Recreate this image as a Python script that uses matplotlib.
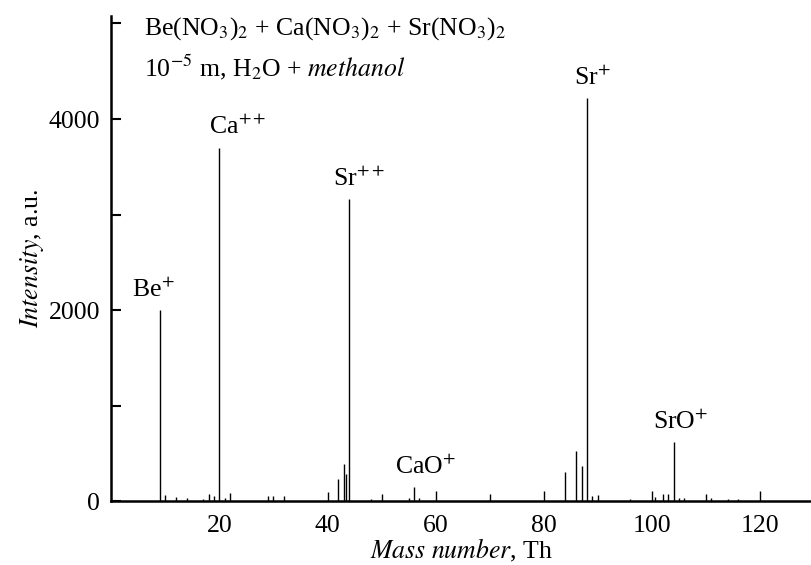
import numpy as np
import matplotlib.pyplot as plt

plt.rcParams['font.family'] = ['Liberation Serif', 'DejaVu Serif']
plt.rcParams['mathtext.fontset'] = 'stix'

#%% Datos del espectro
masas = [9, 10, 12, 14, 17, 18, 19, 20, 21, 22, 29, 30, 32, 40,
         42, 43, 43.5, 44, 48, 50, 55, 56, 57, 60, 70, 80,
         84, 86, 87, 88, 89, 90, 96, 100, 100.5, 102, 103, 104,
         105, 106, 110, 111, 114, 116, 120]
intens = [2000, 65, 45, 35, 25, 80, 50, 3700, 30, 85, 55, 55, 50, 100,
          230, 390, 280, 3160, 25, 70, 35, 145, 30, 110, 70, 110,
          310, 520, 370, 4220, 50, 60, 25, 110, 40, 70, 70, 620,
          35, 35, 70, 30, 25, 25, 110]

# picos etiquetados
picos_m = [9, 20, 44, 56, 88, 104]
picos_lbl = ['Be$^{+}$', 'Ca$^{++}$', 'Sr$^{++}$', 'CaO$^{+}$', 'Sr$^{+}$', 'SrO$^{+}$']
ytick_vals = [0, 1000, 2000, 3000, 4000, 5000]
ytick_lbl = ['0', '', '2000', '', '4000', '']
xtick_vals = [20, 40, 60, 80, 100, 120]

# desplazamientos de las etiquetas (puntos)
lbl_dx = [-5, 13, 7, 8, 4, 5]
lbl_dy = [6, 6, 6, 6, 6, 6]

#%% Grafico
fig = plt.figure(figsize=(8.12, 5.65), dpi=100)
ax = fig.add_axes([0.137, 0.113, 0.863, 0.859])

ax.vlines(masas, 0, intens, color='black', lw=1.0)

for m, lbl, dx, dy in zip(picos_m, picos_lbl, lbl_dx, lbl_dy):
    h = intens[masas.index(m)]
    ax.annotate(lbl, xy=(m, h), xytext=(dx, dy), textcoords='offset points',
                ha='center', va='bottom', fontsize=18.5)

ax.set_xlim(0, 129.6)
ax.set_ylim(0, 5080)
ax.set_yticks(ytick_vals)
ax.set_yticklabels(ytick_lbl)
ax.set_xticks(xtick_vals)
ax.tick_params(axis='y', direction='in', length=7, width=1.5, pad=8, labelsize=18.5)
ax.tick_params(axis='x', length=0, pad=10, labelsize=18.5)

for s in ['top', 'right']:
    ax.spines[s].set_visible(False)
for s in ['left', 'bottom']:
    ax.spines[s].set_linewidth(1.8)

ax.set_xlabel('$\\mathit{Mass\\ number}$, Th', fontsize=18.5, labelpad=0)
ax.set_ylabel('$\\mathit{Intensity}$, a.u.', fontsize=18.5, labelpad=2)

ax.text(0.047, 0.973, 'Be(NO$_3$)$_2$ + Ca(NO$_3$)$_2$ + Sr(NO$_3$)$_2$',
        transform=ax.transAxes, ha='left', va='center', fontsize=18.5)
ax.text(0.047, 0.893, '10$^{-5}$ m, H$_2$O + $\\mathit{methanol}$',
        transform=ax.transAxes, ha='left', va='center', fontsize=18.5)

fig.savefig('out.png', dpi=100)
